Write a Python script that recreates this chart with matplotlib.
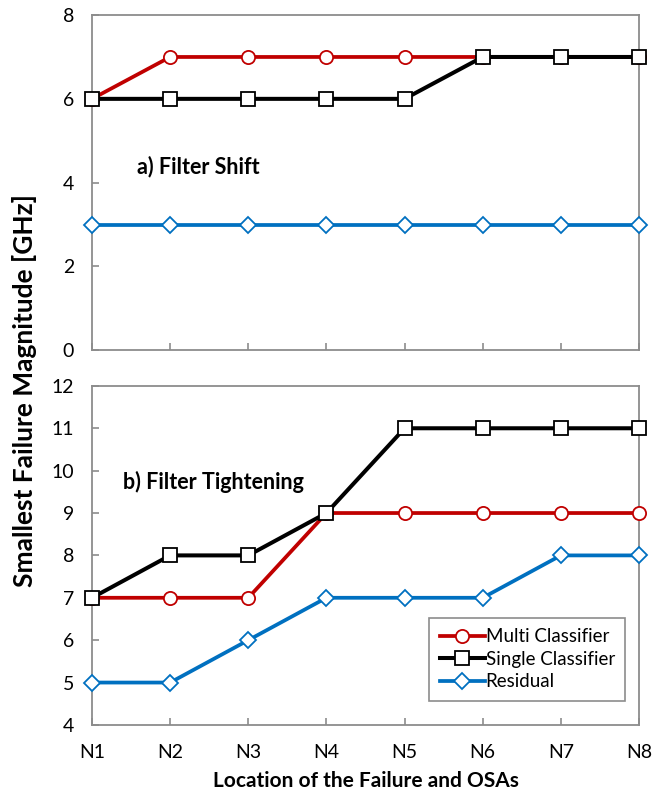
import matplotlib
matplotlib.use("Agg")
import matplotlib.pyplot as plt

locations = ["N1", "N2", "N3", "N4", "N5", "N6", "N7", "N8"]

shift_multi = [6, 7, 7, 7, 7, 7, 7, 7]
shift_single = [6, 6, 6, 6, 6, 7, 7, 7]
shift_residual = [3, 3, 3, 3, 3, 3, 3, 3]

tight_multi = [7, 7, 7, 9, 9, 9, 9, 9]
tight_single = [7, 8, 8, 9, 11, 11, 11, 11]
tight_residual = [5, 5, 6, 7, 7, 7, 8, 8]

plt.rcParams['font.family'] = ['Lato', 'DejaVu Sans']

RED = "#C00000"
BLUE = "#0070C0"
SPINE = "#8c8c8c"

fig = plt.figure(figsize=(6.54, 7.94), dpi=100)
ax1 = fig.add_axes([0.1407, 0.559, 0.8364, 0.422])
ax2 = fig.add_axes([0.1407, 0.087, 0.8364, 0.427])

x = list(range(len(locations)))


def draw(ax, multi, single, resid):
    ax.plot(x, resid, color=BLUE, lw=2.7, marker="D", ms=8, mfc="white",
            mec=BLUE, mew=1.3, clip_on=False, zorder=3, label="Residual")
    ax.plot(x, multi, color=RED, lw=2.7, marker="o", ms=9.5, mfc="white",
            mec=RED, mew=1.3, clip_on=False, zorder=4, label="Multi Classifier")
    ax.plot(x, single, color="black", lw=2.9, marker="s", ms=10, mfc="white",
            mec="black", mew=1.3, clip_on=False, zorder=5, label="Single Classifier")
    ax.set_xlim(0, len(locations) - 1)
    ax.set_xticks(x)
    for s in ax.spines.values():
        s.set_color(SPINE)
        s.set_linewidth(1.3)
    ax.tick_params(direction="in", color=SPINE, width=1.2, length=5,
                   labelsize=14)
    ax.tick_params(axis="y", pad=13)


draw(ax1, shift_multi, shift_single, shift_residual)
ax1.set_ylim(0, 8)
ax1.set_yticks([0, 2, 4, 6, 8])
ax1.tick_params(axis="x", labelbottom=False)
ax1.text(0.082, 0.528, "a) Filter Shift", transform=ax1.transAxes,
         fontsize=15.5, fontweight="bold")

draw(ax2, tight_multi, tight_single, tight_residual)
ax2.set_ylim(4, 12)
ax2.set_yticks(range(4, 13))
ax2.set_xticklabels(locations)
ax2.tick_params(axis="x", pad=14)
ax2.text(0.057, 0.696, "b) Filter Tightening", transform=ax2.transAxes,
         fontsize=15.5, fontweight="bold")
ax2.set_xlabel("Location of the Failure and OSAs", fontsize=15,
               fontweight="bold", labelpad=7)

handles, labels = ax2.get_legend_handles_labels()
order = [1, 2, 0]
leg = ax2.legend([handles[i] for i in order], [labels[i] for i in order],
                 loc="lower right", bbox_to_anchor=(0.985, 0.055),
                 fontsize=13.5, handlelength=2.4, handletextpad=0.05,
                 labelspacing=0.3, fancybox=False, edgecolor=SPINE,
                 framealpha=1, borderpad=0.55, borderaxespad=0.3)
leg.get_frame().set_linewidth(1.2)

fig.text(0.038, 0.5076, "Smallest Failure Magnitude [GHz]", rotation=90,
         va="center", ha="center", fontsize=19, fontweight="bold")

fig.savefig("out.png", dpi=100)
